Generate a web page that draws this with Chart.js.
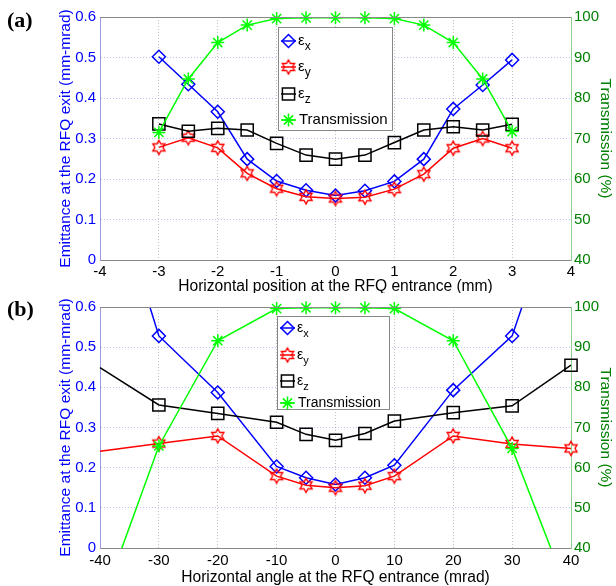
<!DOCTYPE html>
<html>
<head>
<meta charset="utf-8">
<script src="https://cdn.jsdelivr.net/npm/chart.js@4.4.0/dist/chart.umd.min.js"></script>
<style>
  html, body { margin: 0; padding: 0; background: #fff; }
  #wrap { position: relative; width: 616px; height: 586px; }
  canvas { position: absolute; left: 0; }
  #chart-a { top: 0; }
  #chart-b { top: 293px; }
</style>
</head>
<body>
<div id="wrap">
  <canvas id="chart-a" width="616" height="293"></canvas>
  <canvas id="chart-b" width="616" height="293"></canvas>
</div>
<script>
// (a) scan of horizontal position at the RFQ entrance (mm)
const posX = [-3, -2.5, -2, -1.5, -1, -0.5, 0, 0.5, 1, 1.5, 2, 2.5, 3];
const posEx = [0.502, 0.434, 0.366, 0.249, 0.195, 0.172, 0.159, 0.171, 0.194, 0.249, 0.373, 0.432, 0.494];
const posEy = [0.278, 0.302, 0.277, 0.214, 0.176, 0.156, 0.152, 0.155, 0.175, 0.212, 0.276, 0.300, 0.276];
const posEz = [0.336, 0.318, 0.325, 0.321, 0.288, 0.259, 0.249, 0.259, 0.290, 0.321, 0.329, 0.321, 0.335];
const posTr = [71.5, 84.7, 93.7, 98.0, 99.6, 99.8, 99.8, 99.8, 99.6, 98.0, 93.7, 84.7, 71.7];

// (b) scan of horizontal angle at the RFQ entrance (mrad)
const angX = [-40, -30, -20, -10, -5, 0, 5, 10, 20, 30, 40];
const angEx = [1.00, 0.528, 0.387, 0.203, 0.175, 0.158, 0.175, 0.206, 0.393, 0.528, 0.96];
const angEy = [0.241, 0.260, 0.279, 0.179, 0.156, 0.150, 0.155, 0.179, 0.279, 0.259, 0.248];
const angEz = [0.449, 0.356, 0.335, 0.313, 0.283, 0.268, 0.285, 0.316, 0.337, 0.354, 0.455];
const angTr = [25, 65.4, 91.6, 99.6, 99.8, 99.8, 99.8, 99.6, 91.6, 64.8, 27];

const seriesNames = ["x", "y", "z", "Transmission"];
const emitTicks = [0, 0.6, 0.1];
const transTicks = [40, 100, 10];

Chart.defaults.font.family = '"Liberation Sans", Arial, sans-serif';

const BLUE = "#0000ff", RED = "#ff0000", BLACK = "#000000", GREEN = "#00ff00";

// hollow six-pointed star (matlab 'h' marker)
function hexagram(color, r, lw) {
  const s = Math.ceil(2 * r + 2 * lw + 1);
  const c = document.createElement("canvas");
  c.width = s; c.height = s;
  const g = c.getContext("2d");
  g.strokeStyle = color;
  g.lineWidth = lw;
  g.beginPath();
  for (let i = 0; i < 12; i++) {
    const rr = i % 2 === 0 ? r : r / Math.sqrt(3);
    const a = -Math.PI / 2 + i * Math.PI / 6;
    const px = s / 2 + rr * Math.cos(a), py = s / 2 + rr * Math.sin(a);
    if (i) g.lineTo(px, py); else g.moveTo(px, py);
  }
  g.closePath();
  g.stroke();
  return c;
}
const hexRed = hexagram(RED, 7, 1.4);

function zip(xs, ys) {
  return xs.map((x, i) => ({ x: x, y: ys[i] }));
}

// hide markers sitting on the left edge (only the line is seen there)
function edgeRadius(r) {
  return (ctx) => (ctx.raw && ctx.raw.x <= -40 ? 0 : r);
}

function drawMarker(ctx, kind, x, y) {
  ctx.save();
  ctx.lineWidth = 1.5;
  ctx.beginPath();
  if (kind === 0) {
    ctx.strokeStyle = BLUE;
    ctx.moveTo(x, y - 6.5); ctx.lineTo(x + 6.5, y); ctx.lineTo(x, y + 6.5); ctx.lineTo(x - 6.5, y); ctx.closePath();
    ctx.stroke();
  } else if (kind === 1) {
    ctx.drawImage(hexRed, x - hexRed.width / 2, y - hexRed.height / 2);
  } else if (kind === 2) {
    ctx.strokeStyle = BLACK;
    ctx.rect(x - 6.1, y - 6.1, 12.2, 12.2);
    ctx.stroke();
  } else {
    ctx.strokeStyle = GREEN;
    const d = 6.5 * Math.SQRT1_2;
    ctx.moveTo(x - 6.5, y); ctx.lineTo(x + 6.5, y);
    ctx.moveTo(x, y - 6.5); ctx.lineTo(x, y + 6.5);
    ctx.moveTo(x - d, y - d); ctx.lineTo(x + d, y + d);
    ctx.moveTo(x - d, y + d); ctx.lineTo(x + d, y - d);
    ctx.stroke();
  }
  ctx.restore();
}

const paperPlugin = {
  id: "paper",
  beforeDraw(chart) {
    const ctx = chart.ctx;
    ctx.save();
    ctx.fillStyle = "#fff";
    ctx.fillRect(0, 0, chart.width, chart.height);
    ctx.restore();
  },
  afterDraw(chart, args, opts) {
    const ctx = chart.ctx, a = chart.chartArea;
    ctx.save();
    // top edge of the box
    ctx.strokeStyle = "#888";
    ctx.lineWidth = 1;
    ctx.beginPath();
    ctx.moveTo(a.left, Math.round(a.top) + 0.5);
    ctx.lineTo(a.right, Math.round(a.top) + 0.5);
    ctx.stroke();

    // panel tag
    ctx.fillStyle = "#000";
    ctx.font = 'bold 22px "Liberation Serif", "Times New Roman", serif';
    ctx.textBaseline = "alphabetic";
    ctx.fillText(opts.tag, 7, opts.tagY);

    // legend box
    const L = opts.legend;
    ctx.fillStyle = "#fff";
    ctx.fillRect(L.x, L.y, L.w, L.h);
    ctx.strokeStyle = "#888";
    ctx.strokeRect(L.x + 0.5, L.y + 0.5, L.w, L.h);
    const colors = [BLUE, RED, BLACK, GREEN];
    L.rows.forEach((ry, i) => {
      ctx.strokeStyle = colors[i];
      ctx.lineWidth = 1.5;
      ctx.beginPath();
      ctx.moveTo(L.x + 3, ry);
      ctx.lineTo(L.x + 18, ry);
      ctx.stroke();
      drawMarker(ctx, i, L.x + 10.5, ry);
      ctx.fillStyle = "#000";
      ctx.textBaseline = "middle";
      if (i < 3) {
        ctx.font = L.font + 'px "Liberation Sans", Arial, sans-serif';
        ctx.fillText("\u03b5", L.x + 20, ry);
        const w = ctx.measureText("\u03b5").width;
        ctx.font = (L.font - 3) + 'px "Liberation Sans", Arial, sans-serif';
        ctx.fillText(seriesNames[i], L.x + 20 + w, ry + 6);
      } else {
        ctx.font = L.font + 'px "Liberation Sans", Arial, sans-serif';
        ctx.fillText(seriesNames[i], L.x + 21, ry);
      }
    });
    ctx.restore();
  },
};

function makeChart(id, p) {
  const common = { tension: 0, borderWidth: 1.5, pointBorderWidth: 1.5, pointBackgroundColor: "rgba(0,0,0,0)" };
  return new Chart(document.getElementById(id), {
    type: "line",
    data: {
      datasets: [
        Object.assign({}, common, {
          label: "εx", data: zip(p.x, p.ex), borderColor: BLUE, pointBorderColor: BLUE,
          pointStyle: "rectRot", pointRadius: edgeRadius(6.5), order: 3,
          clip: { left: 8, right: 8, top: 0, bottom: 8 },
        }),
        Object.assign({}, common, {
          label: "εy", data: zip(p.x, p.ey), borderColor: RED, pointBorderColor: RED,
          pointStyle: hexRed, pointRadius: edgeRadius(6), order: 2,
          clip: { left: 8, right: 8, top: 8, bottom: 8 },
        }),
        Object.assign({}, common, {
          label: "εz", data: zip(p.x, p.ez), borderColor: BLACK, pointBorderColor: BLACK,
          pointStyle: "rect", pointRadius: edgeRadius(8.6), order: 1,
          clip: { left: 8, right: 8, top: 8, bottom: 8 },
        }),
        Object.assign({}, common, {
          label: "Transmission", data: zip(p.x, p.tr), yAxisID: "y2", borderColor: GREEN, pointBorderColor: GREEN,
          pointStyle: "star", pointRadius: 6.5, order: 0,
          clip: { left: 8, right: 8, top: 8, bottom: 0 },
        }),
      ],
    },
    options: {
      responsive: false,
      animation: false,
      events: [],
      layout: { padding: { top: p.top, left: 0, right: 0, bottom: 0 } },
      plugins: {
        legend: { display: false },
        tooltip: { enabled: false },
        paper: { tag: p.tag, tagY: p.tagY, legend: p.legend },
      },
      scales: {
        x: {
          type: "linear", min: p.xr[0], max: p.xr[1],
          ticks: { stepSize: p.xr[2], color: "#000", font: { size: 15 }, padding: p.tickPad, maxRotation: 0 },
          grid: { color: "#c4c4c4", drawTicks: false },
          border: { color: "#888", dash: [1, 2] },
          title: { display: true, text: p.xTitle, color: "#000", font: { size: 15.6, lineHeight: p.xTitleLH }, padding: { top: 0, bottom: p.xTitlePad } },
          afterFit: (s) => { s.height = p.xAxisH; },
        },
        y: {
          position: "left", min: emitTicks[0], max: emitTicks[1],
          ticks: { stepSize: emitTicks[2], color: BLUE, font: { size: 15 }, padding: 4 },
          grid: { color: "rgba(140,140,235,0.55)", drawTicks: false },
          border: { color: "#9a9ae0", dash: [1, 2] },
          title: { display: true, text: "Emittance at the RFQ exit (mm-mrad)", color: BLUE, font: { size: 15.5 }, padding: { top: 56, bottom: 0 } },
          afterFit: (s) => { s.width = 100; },
        },
        y2: {
          position: "right", min: transTicks[0], max: transTicks[1],
          ticks: { stepSize: transTicks[2], color: "#008000", font: { size: 15 }, padding: 3 },
          grid: { drawOnChartArea: false, drawTicks: false },
          border: { color: "#8fcf8f" },
          title: { display: true, text: "Transmission (%)", color: "#008000", font: { size: 15.5 }, padding: { top: 1, bottom: 0 } },
          afterFit: (s) => { s.width = 45; },
        },
      },
    },
    plugins: [paperPlugin],
  });
}

makeChart("chart-a", {
  x: posX, ex: posEx, ey: posEy, ez: posEz, tr: posTr,
  xr: [-4, 4, 1], top: 17, xAxisH: 33, tickPad: 3, xTitlePad: 0, xTitleLH: 0.8,
  xTitle: "Horizontal position at the RFQ entrance (mm)",
  tag: "(a)", tagY: 27,
  legend: { x: 278, y: 27, w: 114, h: 103, font: 15, rows: [41, 67, 94, 120] },
});

makeChart("chart-b", {
  x: angX, ex: angEx, ey: angEy, ez: angEz, tr: angTr,
  xr: [-40, 40, 10], top: 14, xAxisH: 38, tickPad: 4, xTitlePad: 1, xTitleLH: 1,
  xTitle: "Horizontal angle at the RFQ entrance (mrad)",
  tag: "(b)", tagY: 23,
  legend: { x: 277, y: 23, w: 112, h: 93, font: 14, rows: [35, 62, 88, 110] },
});
</script>
</body>
</html>
